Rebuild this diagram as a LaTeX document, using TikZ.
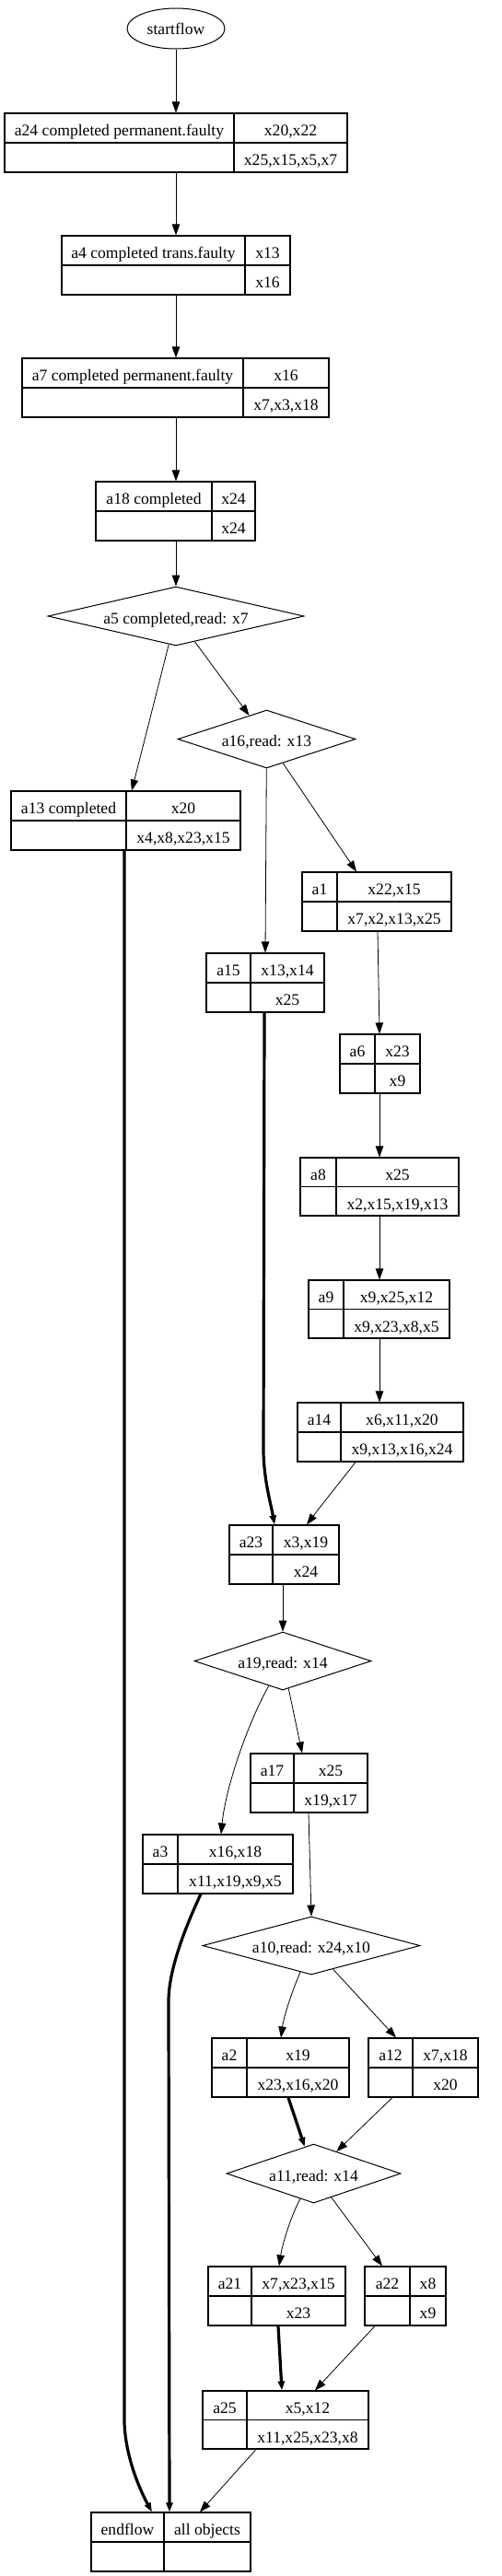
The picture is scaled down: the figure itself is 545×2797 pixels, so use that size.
\documentclass[tikz,border=0pt]{standalone}
\usepackage{fontspec}
\setmainfont{Liberation Serif}
\usetikzlibrary{shapes.geometric,arrows.meta}
\tikzset{
  recbox/.style={draw, rectangle, inner sep=0pt, line width=1.1pt},
  boxline/.style={line width=1.1pt},
  celltext/.style={anchor=base, inner sep=0pt, font=\fontsize{17.6}{20}\selectfont},
  decision/.style={draw, diamond, inner sep=0pt, line width=1pt},
  startshape/.style={draw, ellipse, inner sep=0pt, line width=1pt},
  edge/.style={line width=0.8pt, -{Triangle[length=12pt,width=8.5pt]}},
  boldedge/.style={line width=3.2pt, -{Triangle[length=10pt,width=7pt]}},
}
% name, left, top, divider, right, bottom, top-left, top-right, bottom-right
\newcommand\recnode[9]{%
  \node[recbox, minimum width={(#5-#2)*1pt}, minimum height={(#6-#3)*1pt}] (#1) at ({(#2+#5)/2},{(#3+#6)/2}) {};
  \draw[boxline] (#1.west) -- (#1.east);
  \draw[boxline] (#1.north -| #4,0) -- (#1.south -| #4,0);
  \node[celltext] (#1-tl) at ({(#2+#4)/2},{(3*#3+#6)/4+8.8}) {#7};
  \node[celltext] (#1-tr) at ({(#4+#5)/2},{(3*#3+#6)/4+8.8}) {#8};
  \node[celltext] (#1-br) at ({(#4+#5)/2},{(#3+3*#6)/4+8.8}) {#9};
}
% name, cx, cy, w, h, text
\newcommand\decnode[6]{%
  \node[decision, minimum width=#4pt, minimum height=#5pt] (#1) at (#2,#3) {};
  \node[celltext] (#1-t) at (#2,{#3+8}) {#6};
}
\begin{document}
\begin{tikzpicture}[x=1pt,y=-1pt]
\useasboundingbox (0,0) rectangle (545,2797);

\node[startshape, minimum width=106pt, minimum height=44pt] (startflow) at (191,31) {};
\node[celltext] (startflow-t) at (191,37) {startflow};

\recnode{a24}{5}{123}{254}{377}{187}{a24 completed permanent.faulty}{x20,x22}{x25,x15,x5,x7}
\recnode{a4}{67}{256}{266}{315}{320}{a4 completed trans.faulty}{x13}{x16}
\recnode{a7}{24}{389}{264}{357}{453}{a7 completed permanent.faulty}{x16}{x7,x3,x18}
\recnode{a18}{104}{523}{230}{277}{587}{a18 completed}{x24}{x24}
\decnode{a5}{191}{669}{278}{64}{a5 completed,read: x7}
\decnode{a16}{289.5}{802.5}{193}{63}{a16,read: x13}
\recnode{a13}{12}{859}{137}{261}{923}{a13 completed}{x20}{x4,x8,x23,x15}
\recnode{a1}{328}{947}{366}{490}{1011}{a1}{x22,x15}{x7,x2,x13,x25}
\recnode{a15}{224}{1035}{272}{352}{1099}{a15}{x13,x14}{x25}
\recnode{a6}{369}{1123}{407}{456}{1187}{a6}{x23}{x9}
\recnode{a8}{326}{1257}{365}{498}{1320}{a8}{x25}{x2,x15,x19,x13}
\recnode{a9}{335}{1390}{373}{488}{1453}{a9}{x9,x25,x12}{x9,x23,x8,x5}
\recnode{a14}{323}{1523}{370}{503}{1587}{a14}{x6,x11,x20}{x9,x13,x16,x24}
\recnode{a23}{249}{1656}{296}{368}{1720}{a23}{x3,x19}{x24}
\decnode{a19}{307}{1803.5}{192}{63}{a19,read: x14}
\recnode{a17}{272}{1904}{319}{399}{1968}{a17}{x25}{x19,x17}
\recnode{a3}{155}{1992}{193}{318}{2056}{a3}{x16,x18}{x11,x19,x9,x5}
\decnode{a10}{338}{2112.5}{236}{63}{a10,read: x24,x10}
\recnode{a2}{230}{2213}{268}{379}{2277}{a2}{x19}{x23,x16,x20}
\recnode{a12}{400}{2213}{448}{519}{2277}{a12}{x7,x18}{x20}
\decnode{a11}{340.5}{2360}{189}{64}{a11,read: x14}
\recnode{a21}{226}{2461}{273}{375}{2525}{a21}{x7,x23,x15}{x23}
\recnode{a22}{396}{2461}{445}{484}{2525}{a22}{x8}{x9}
\recnode{a25}{220}{2596}{268}{400}{2659}{a25}{x5,x12}{x11,x25,x23,x8}
\recnode{endflow}{99}{2728}{178}{272}{2792}{endflow}{all objects}{}

% connectors
\draw[edge] (startflow) -- (a24.north -| 191,0);
\draw[edge] (a24.south -| 191,0) -- (a4.north -| 191,0);
\draw[edge] (a4.south -| 191,0) -- (a7.north -| 191,0);
\draw[edge] (a7.south -| 191,0) -- (a18.north -| 191,0);
\draw[edge] (a18.south -| 191,0) -- (a5.north);
\draw[edge] (a5) -- (a13.north -| 143,0);
\draw[edge] (a5) -- (a16);
\draw[edge] (a16) -- (a15.north -| 288,0);
\draw[edge] (a16) -- (a1.north -| 387,0);
\draw[edge] (a1.south -| 410,0) -- (a6.north -| 412,0);
\draw[edge] (a6.south -| 412,0) -- (a8.north -| 412,0);
\draw[edge] (a8.south -| 412,0) -- (a9.north -| 412,0);
\draw[edge] (a9.south -| 412,0) -- (a14.north -| 412,0);
\draw[edge] (a14.south -| 386,0) .. controls (370,1608) and (350,1633) .. (a23.north -| 333,0);
\draw[boldedge] (a15.south -| 287,0) -- (286,1577) .. controls (287,1610) and (294,1632) .. (a23.north -| 298,0);
\draw[edge] (a23.south -| 307,0) -- (a19.north);
\draw[edge] (a19) -- (a17.north -| 328,0);
\draw[edge] (a19) .. controls (269.5,1870) and (245,1940) .. (a3.north -| 240,0);
\draw[edge] (a17.south -| 335,0) -- (a10.north);
\draw[edge] (a10) .. controls (316,2165) and (308,2190) .. (a2.north -| 305,0);
\draw[edge] (a10) -- (a12.north -| 430,0);
\draw[boldedge] (a2.south -| 313,0) -- (a11);
\draw[edge] (a12.south -| 426,0) -- (a11);
\draw[edge] (a11) .. controls (314,2410) and (306,2440) .. (a21.north -| 303,0);
\draw[edge] (a11) -- (a22.north -| 415,0);
\draw[boldedge] (a21.south -| 302,0) -- (a25.north -| 306,0);
\draw[edge] (a22.south -| 407,0) -- (a25.north -| 342,0);
\draw[edge] (a25.south -| 278,0) -- (endflow.north -| 217,0);
\draw[boldedge] (a13.south -| 135,0) -- (135,2630) .. controls (136,2665) and (150,2700) .. (endflow.north -| 165,0);
\draw[boldedge] (a3.south -| 218,0) .. controls (200,2095) and (183,2140) .. (183,2173) -- (endflow.north -| 184,0);
\end{tikzpicture}
\end{document}
